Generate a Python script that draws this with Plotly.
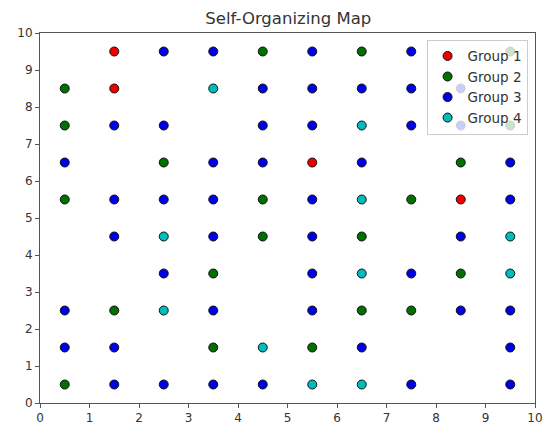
import plotly.graph_objects as go

# Winning-node coordinates on the 10x10 map, one list per group
group1_x = [1.5, 1.5, 5.5, 8.5]
group1_y = [9.5, 8.5, 6.5, 5.5]

group2_x = [4.5, 6.5, 9.5, 0.5, 0.5, 9.5, 2.5, 8.5, 0.5, 4.5, 7.5,
            4.5, 6.5, 3.5, 8.5, 1.5, 6.5, 7.5, 3.5, 5.5, 0.5]
group2_y = [9.5, 9.5, 9.5, 8.5, 7.5, 7.5, 6.5, 6.5, 5.5, 5.5, 5.5,
            4.5, 4.5, 3.5, 3.5, 2.5, 2.5, 2.5, 1.5, 1.5, 0.5]

group3_x = [2.5, 3.5, 5.5, 7.5,
            4.5, 5.5, 6.5, 7.5, 8.5,
            1.5, 2.5, 4.5, 5.5, 7.5, 8.5,
            0.5, 3.5, 4.5, 6.5, 9.5,
            1.5, 2.5, 3.5, 5.5, 9.5,
            1.5, 3.5, 5.5, 8.5,
            2.5, 5.5, 7.5,
            0.5, 3.5, 5.5, 8.5, 9.5,
            0.5, 1.5, 6.5, 9.5,
            1.5, 2.5, 3.5, 4.5, 7.5, 9.5]
group3_y = [9.5, 9.5, 9.5, 9.5,
            8.5, 8.5, 8.5, 8.5, 8.5,
            7.5, 7.5, 7.5, 7.5, 7.5, 7.5,
            6.5, 6.5, 6.5, 6.5, 6.5,
            5.5, 5.5, 5.5, 5.5, 5.5,
            4.5, 4.5, 4.5, 4.5,
            3.5, 3.5, 3.5,
            2.5, 2.5, 2.5, 2.5, 2.5,
            1.5, 1.5, 1.5, 1.5,
            0.5, 0.5, 0.5, 0.5, 0.5, 0.5]

group4_x = [3.5, 6.5, 6.5, 2.5, 9.5, 6.5, 9.5, 2.5, 4.5, 5.5, 6.5]
group4_y = [8.5, 7.5, 5.5, 4.5, 4.5, 3.5, 3.5, 2.5, 1.5, 0.5, 0.5]

groups = [
    ("Group 1", group1_x, group1_y, "#ee0000"),
    ("Group 2", group2_x, group2_y, "#007000"),
    ("Group 3", group3_x, group3_y, "#0000e6"),
    ("Group 4", group4_x, group4_y, "#00bcbc"),
]

fig = go.Figure()
for name, xs, ys, color in groups:
    fig.add_trace(go.Scatter(
        x=xs, y=ys, mode="markers", name=name,
        marker=dict(color=color, size=9, line=dict(color="#111111", width=1)),
    ))

axis_style = dict(
    range=[0, 10], dtick=1, showgrid=False, zeroline=False,
    showline=True, linecolor="#555555", linewidth=1, mirror=True,
    ticks="outside", ticklen=4, tickcolor="#555555",
    ticklabeloverflow="allow", automargin=False,
    tickfont=dict(family="DejaVu Sans", size=12, color="#333333"),
)

fig.update_layout(
    width=544, height=430,
    margin=dict(l=40, r=9, t=33, b=27),
    paper_bgcolor="white", plot_bgcolor="white",
    title=dict(text="Self-Organizing Map", x=0.53, xanchor="center",
               y=0.957, yanchor="middle",
               font=dict(family="DejaVu Sans", size=16.5, color="#333333")),
    xaxis=axis_style,
    yaxis=axis_style,
    legend=dict(x=0.985, y=0.982, xanchor="right", yanchor="top",
                bgcolor="rgba(255,255,255,0.8)", bordercolor="#cccccc",
                borderwidth=1,
                font=dict(family="DejaVu Sans", size=13.5, color="#333333"),
                itemwidth=30, tracegroupgap=0),
    showlegend=True,
)

fig.write_html("out.html")
